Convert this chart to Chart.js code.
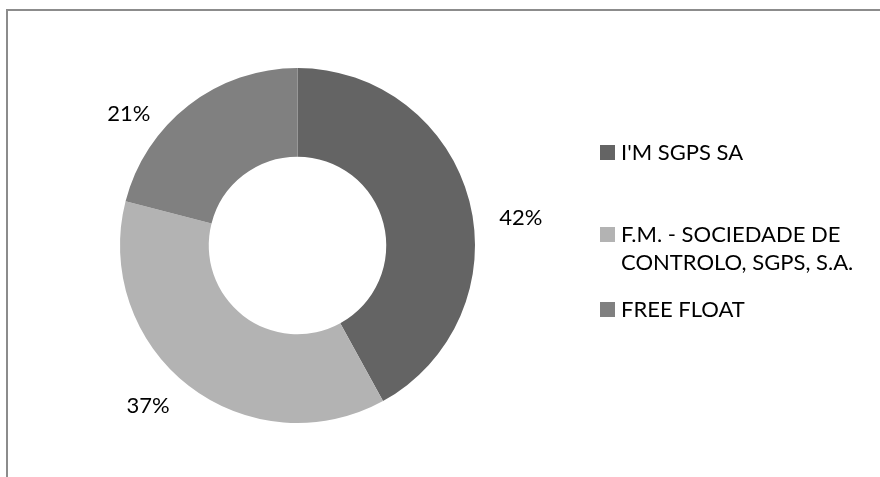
<!DOCTYPE html>
<html>
<head>
<meta charset="utf-8">
<script src="https://cdn.jsdelivr.net/npm/chart.js@4.4.1/dist/chart.umd.min.js"></script>
<style>
  html, body { margin: 0; padding: 0; background: #fff; }
  #wrap { position: relative; width: 880px; height: 477px; overflow: hidden; font-family: Lato, "Open Sans", sans-serif; }
  #frame { position: absolute; left: 6px; top: 9px; width: 900px; height: 500px; border-top: 2px solid #8c8c8c; border-left: 2px solid #8c8c8c; box-sizing: border-box; }
  #chart { position: absolute; left: 0; top: 0; width: 880px; height: 477px; }
  #legend { position: absolute; left: 600px; top: 138px; width: 275px; }
  .item { position: relative; padding-left: 21px; font-size: 22px; line-height: 28.5px; color: #000; }
  .item .box { position: absolute; left: 0; top: 7px; width: 15px; height: 15px; }
  .item:nth-child(1) { margin-bottom: 53px; }
  .item:nth-child(2) { margin-bottom: 18px; }
</style>
</head>
<body>
<div id="wrap">
  <div id="frame"></div>
  <div id="chart"><canvas id="donut"></canvas></div>
  <div id="legend"></div>
</div>
<script>
const labels = ["I'M SGPS SA", "F.M. - SOCIEDADE DE CONTROLO, SGPS, S.A.", "FREE FLOAT"];
const shares = [42, 37, 21];
const colors = ["#646464", "#b3b3b3", "#808080"];

// where the % labels sit (degrees clockwise from 12 o'clock, px from centre)
const labelAngles = [83, 223, 308];
const labelDist = [225, 219, 214];

const pctLabels = {
  id: "pctLabels",
  afterDatasetsDraw(chart) {
    const ctx = chart.ctx;
    const meta = chart.getDatasetMeta(0);
    ctx.save();
    ctx.font = "22px Lato, 'Open Sans', sans-serif";
    ctx.fillStyle = "#000";
    ctx.textAlign = "center";
    ctx.textBaseline = "middle";
    meta.data.forEach((arc, i) => {
      const a = (labelAngles[i] * Math.PI) / 180;
      const x = arc.x + Math.sin(a) * labelDist[i];
      const y = arc.y - Math.cos(a) * labelDist[i];
      ctx.fillText(shares[i] + "%", x, y);
    });
    ctx.restore();
  },
};

function draw() {
  new Chart(document.getElementById("donut").getContext("2d"), {
    type: "doughnut",
    data: {
      labels: labels,
      datasets: [{ data: shares, backgroundColor: colors, borderWidth: 0 }],
    },
    options: {
      responsive: true,
      maintainAspectRatio: false,
      animation: false,
      cutout: "50%",
      layout: { padding: { left: 120, right: 405, top: 68, bottom: 54 } },
      plugins: { legend: { display: false }, tooltip: { enabled: false } },
    },
    plugins: [pctLabels],
  });
}

// Legend
const legendEl = document.getElementById("legend");
labels.forEach((lab, i) => {
  const div = document.createElement("div");
  div.className = "item";
  div.innerHTML = `<span class="box" style="background:${colors[i]}"></span>${lab}`;
  legendEl.appendChild(div);
});

document.fonts.load("22px Lato").then(draw, draw);
</script>
</body>
</html>
